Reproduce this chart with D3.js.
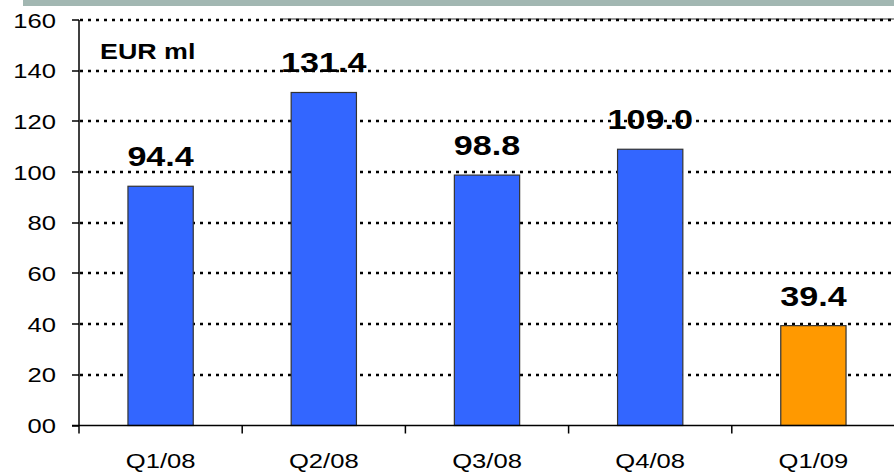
<!DOCTYPE html>
<html>
<head>
<meta charset="utf-8">
<script src="https://cdn.jsdelivr.net/npm/d3@7"></script>
<style>
  body { margin: 0; background: #fff; }
  svg { display: block; font-family: "Liberation Sans", Arial, sans-serif; }
</style>
</head>
<body>
<svg id="chart" width="894" height="472"></svg>
<script>
'use strict';

/******************** data ********************/
var quarters = ["Q1/08", "Q2/08", "Q3/08", "Q4/08", "Q1/09"];
var values = [94.4, 131.4, 98.8, 109.0, 39.4];
var barColors = ["#3366ff", "#3366ff", "#3366ff", "#3366ff", "#ff9900"];
var yTicks = [0, 20, 40, 60, 80, 100, 120, 140, 160];
var yTickLabels = ["00", "20", "40", "60", "80", "100", "120", "140", "160"];
var unitLabel = "EUR ml";

/******************** layout ********************/
var width = 894, height = 472;
var plotLeft = 79, plotRight = 895, plotTop = 20, plotBottom = 425.5;
var stretch = 1.22; // the original text is a bit wide

var svg = d3.select("#chart");

var x = d3.scaleBand()
  .domain(quarters)
  .range([plotLeft, plotRight])
  .paddingInner(0.6)
  .paddingOuter(0.3);

var y = d3.scaleLinear()
  .domain([0, 160])
  .range([plotBottom, plotTop]);

// helper: text squeezed wider like the original
function wideText(g, tx, ty, str, size, weight, anchor) {
  return g.append("g")
    .attr("transform", "translate(" + tx + "," + ty + ") scale(" + stretch + ",1)")
    .append("text")
    .attr("text-anchor", anchor)
    .style("font-size", size + "px")
    .style("font-weight", weight)
    .attr("fill", "#000")
    .text(str);
}

/******************** top band ********************/
svg.append("rect")
  .attr("x", 23).attr("y", 0).attr("width", width - 23).attr("height", 6)
  .attr("fill", "#a2b7b2");

svg.append("line")
  .attr("x1", 280).attr("x2", width).attr("y1", 19).attr("y2", 19)
  .attr("stroke", "#777").attr("stroke-width", 1.5);

/******************** grid ********************/
var grid = svg.append("g").attr("class", "grid");
grid.selectAll("line")
  .data(yTicks.filter(function(d) { return d > 0; }))
  .enter().append("line")
  .attr("x1", plotLeft + 1).attr("x2", width)
  .attr("y1", function(d) { return Math.round(y(d)); })
  .attr("y2", function(d) { return Math.round(y(d)); })
  .attr("stroke", "#000")
  .attr("stroke-width", 2.5)
  .attr("stroke-dasharray", "3,5");

/******************** bars ********************/
svg.append("g").selectAll("rect")
  .data(values)
  .enter().append("rect")
  .attr("x", function(d, i) { return x(quarters[i]); })
  .attr("y", function(d) { return y(d); })
  .attr("width", x.bandwidth())
  .attr("height", function(d) { return y(0) - y(d); })
  .attr("fill", function(d, i) { return barColors[i]; })
  .attr("stroke", "#333")
  .attr("stroke-width", 1.2);

/******************** axes ********************/
var axes = svg.append("g").attr("class", "axes");

axes.append("line")
  .attr("x1", plotLeft).attr("x2", plotLeft)
  .attr("y1", plotTop).attr("y2", plotBottom + 8)
  .attr("stroke", "#000").attr("stroke-width", 1.5);

axes.append("line")
  .attr("x1", plotLeft - 7).attr("x2", width)
  .attr("y1", plotBottom).attr("y2", plotBottom)
  .attr("stroke", "#000").attr("stroke-width", 1.5);

// y ticks
axes.selectAll(".ytick")
  .data(yTicks)
  .enter().append("line")
  .attr("class", "ytick")
  .attr("x1", plotLeft - 7).attr("x2", plotLeft)
  .attr("y1", function(d) { return Math.round(y(d)); })
  .attr("y2", function(d) { return Math.round(y(d)); })
  .attr("stroke", "#000").attr("stroke-width", 1.5);

yTicks.forEach(function(d, i) {
  wideText(axes, 56, y(d) + 7.5, yTickLabels[i], 21, "normal", "end");
});

// x ticks between categories
var step = x.step();
var bounds = d3.range(quarters.length + 1).map(function(i) {
  return x(quarters[0]) - x.paddingOuter() * step + i * step;
}).filter(function(b) { return b > plotLeft + 1 && b < width; });

axes.selectAll(".xtick")
  .data(bounds)
  .enter().append("line")
  .attr("class", "xtick")
  .attr("x1", function(d) { return d; }).attr("x2", function(d) { return d; })
  .attr("y1", plotBottom).attr("y2", plotBottom + 8)
  .attr("stroke", "#000").attr("stroke-width", 1.5);

quarters.forEach(function(q) {
  wideText(axes, x(q) + x.bandwidth() / 2, 468, q, 21, "normal", "middle");
});

/******************** value labels ********************/
values.forEach(function(v, i) {
  wideText(svg, x(quarters[i]) + x.bandwidth() / 2, y(v) - 20, v.toFixed(1), 28, "bold", "middle");
});

wideText(svg, 100, 59, unitLabel, 22, "bold", "start");
</script>
</body>
</html>
